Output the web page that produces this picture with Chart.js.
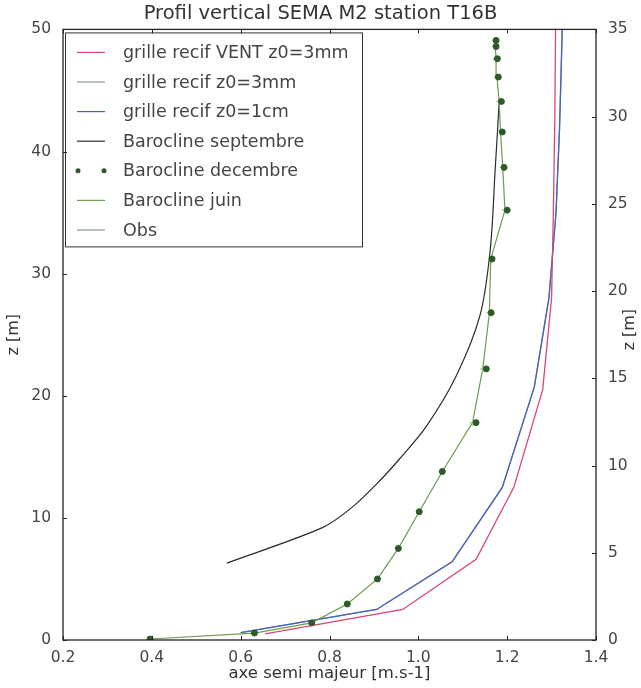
<!DOCTYPE html>
<html>
<head>
<meta charset="utf-8">
<title>Profil vertical SEMA M2 station T16B</title>
<script src="https://cdn.jsdelivr.net/npm/chart.js@4.4.0/dist/chart.umd.min.js"></script>
<style>
  html, body { margin: 0; padding: 0; background: #fff; }
  #wrap { width: 641px; height: 688px; }
</style>
</head>
<body>
<div id="wrap"><canvas id="profil" width="641" height="688"></canvas></div>
<script>
// Series values (x = axe semi majeur, z = depth in m)
const ventZ = [0.5, 2.5, 6.6, 12.5, 20.5, 28, 35, 42, 50];
const ventX = [0.655, 0.965, 1.13, 1.215, 1.28, 1.30, 1.304, 1.307, 1.309];

const z3mmZ = [0.6, 2.5, 6.4, 12.5, 20.7, 28, 35, 42, 50];
const z3mmX = [0.60, 0.906, 1.076, 1.189, 1.261, 1.294, 1.31, 1.318, 1.324];

const z1cmZ = [0.6, 2.5, 6.4, 12.5, 20.7, 28, 35, 42, 50];
const z1cmX = [0.60, 0.906, 1.076, 1.189, 1.261, 1.294, 1.31, 1.318, 1.324];

const septZ = [6.3, 9.2, 10.9, 13.0, 14.8, 17.5, 21.6, 26.6, 32, 38.5, 44];
const septX = [0.569, 0.784, 0.852, 0.912, 0.957, 1.018, 1.085, 1.139, 1.162, 1.173, 1.182];

const decZ = [0.08, 0.57, 1.4, 2.95, 5.0, 7.5, 10.5, 13.8, 17.8, 22.2, 26.8, 31.2, 35.2, 38.7, 41.6, 44.1, 46.1, 47.6, 48.6, 49.1];
const decX = [0.396, 0.631, 0.760, 0.840, 0.908, 0.955, 1.002, 1.054, 1.130, 1.153, 1.164, 1.166, 1.200, 1.193, 1.189, 1.187, 1.180, 1.178, 1.175, 1.175];

const juinZ = [0.08, 0.57, 1.4, 2.95, 5.0, 7.5, 10.5, 13.8, 17.8, 22.2, 26.8, 31.2, 35.2, 38.7, 41.6, 44.1, 46.1, 47.6, 48.6, 49.1];
const juinX = [0.396, 0.631, 0.760, 0.840, 0.908, 0.955, 1.002, 1.054, 1.122, 1.145, 1.160, 1.163, 1.195, 1.190, 1.185, 1.182, 1.177, 1.175, 1.173, 1.173];

const obsZ = [];
const obsX = [];

// Axis ticks
const xTicks = [0.2, 0.4, 0.6, 0.8, 1.0, 1.2, 1.4];
const zTicks = [0, 10, 20, 30, 40, 50];
const zRightTicks = [0, 5, 10, 15, 20, 25, 30, 35];

function toPoints(xs, zs) {
    return xs.map((x, i) => ({ x: x, y: zs[i] }));
}

const font = 'DejaVu Sans, Verdana, sans-serif';

// Legend drawn inside the plot, top left, like the original
const innerLegend = {
    id: 'innerLegend',
    afterDatasetsDraw(chart) {
        const ctx = chart.ctx;
        const area = chart.chartArea;
        const x0 = area.left + 2, y0 = area.top + 3;
        const w = 297, h = 214;
        ctx.save();
        ctx.fillStyle = '#fff';
        ctx.fillRect(x0, y0, w, h);
        ctx.strokeStyle = '#333';
        ctx.lineWidth = 1;
        ctx.strokeRect(x0 + 0.5, y0 + 0.5, w, h);
        ctx.font = '17.5px ' + font;
        ctx.textBaseline = 'middle';
        chart.data.datasets.forEach((ds, i) => {
            const y = y0 + 20 + i * 29.6;
            if (ds.showLine === false) {
                ctx.fillStyle = ds.pointBackgroundColor;
                [x0 + 13, x0 + 39].forEach(px => {
                    ctx.beginPath();
                    ctx.arc(px, y, 2.5, 0, Math.PI * 2);
                    ctx.fill();
                });
            } else {
                ctx.strokeStyle = ds.borderColor;
                ctx.lineWidth = 1.2;
                ctx.beginPath();
                ctx.moveTo(x0 + 12, y);
                ctx.lineTo(x0 + 40, y);
                ctx.stroke();
            }
            ctx.fillStyle = '#444';
            ctx.fillText(ds.label, x0 + 58, y + 1);
        });
        ctx.restore();
    },
    afterDraw(chart) {
        const ctx = chart.ctx;
        const area = chart.chartArea;
        ctx.save();
        // frame
        ctx.strokeStyle = '#222';
        ctx.lineWidth = 1.3;
        ctx.strokeRect(area.left, area.top, area.right - area.left, area.bottom - area.top);
        // inward ticks
        ctx.lineWidth = 1;
        ctx.beginPath();
        const sx = chart.scales.x, sy = chart.scales.y, sy2 = chart.scales.y2;
        xTicks.forEach(v => {
            const px = Math.round(sx.getPixelForValue(v)) + 0.5;
            ctx.moveTo(px, area.bottom); ctx.lineTo(px, area.bottom - 4);
            ctx.moveTo(px, area.top); ctx.lineTo(px, area.top + 4);
        });
        zTicks.forEach(v => {
            const py = Math.round(sy.getPixelForValue(v)) + 0.5;
            ctx.moveTo(area.left, py); ctx.lineTo(area.left + 4, py);
        });
        zRightTicks.forEach(v => {
            const py = Math.round(sy2.getPixelForValue(v)) + 0.5;
            ctx.moveTo(area.right, py); ctx.lineTo(area.right - 4, py);
        });
        ctx.stroke();
        // right axis title, reading upwards
        ctx.fillStyle = '#333';
        ctx.font = '16px ' + font;
        ctx.textAlign = 'center';
        ctx.textBaseline = 'middle';
        ctx.translate(630, (area.top + area.bottom) / 2 - 5);
        ctx.rotate(-Math.PI / 2);
        ctx.fillText('z [m]', 0, 0);
        ctx.restore();
    }
};

const ctx = document.getElementById('profil').getContext('2d');
new Chart(ctx, {
    type: 'scatter',
    data: {
        datasets: [
            { label: 'grille recif VENT z0=3mm', data: toPoints(ventX, ventZ), borderColor: '#d9466f', showLine: true, pointRadius: 0, borderWidth: 1.3, order: 3 },
            { label: 'grille recif z0=3mm', data: toPoints(z3mmX, z3mmZ), borderColor: '#8a9a8a', showLine: true, pointRadius: 0, borderWidth: 1.3, order: 5 },
            { label: 'grille recif z0=1cm', data: toPoints(z1cmX, z1cmZ), borderColor: '#4a5fc0', showLine: true, pointRadius: 0, borderWidth: 1.3, order: 4 },
            { label: 'Barocline septembre', data: toPoints(septX, septZ), borderColor: '#2a2a2a', showLine: true, pointRadius: 0, borderWidth: 1.2, tension: 0.3, order: 2 },
            { label: 'Barocline decembre', data: toPoints(decX, decZ), showLine: false, pointStyle: 'circle', pointRadius: 3, pointBackgroundColor: '#2e5a2a', pointBorderColor: '#2e5a2a', borderColor: '#2e5a2a', order: 0 },
            { label: 'Barocline juin', data: toPoints(juinX, juinZ), borderColor: '#6c9c4c', showLine: true, pointStyle: 'cross', pointRadius: 3, pointBorderColor: '#a8c890', pointBackgroundColor: '#a8c890', borderWidth: 1.2, order: 1 },
            { label: 'Obs', data: toPoints(obsX, obsZ), borderColor: '#8a9a8a', showLine: true, pointRadius: 0, borderWidth: 1.3, order: 6 }
        ]
    },
    options: {
        responsive: false,
        animation: false,
        layout: { padding: { top: 2, right: 0, left: 0, bottom: 0 } },
        plugins: {
            legend: { display: false },
            tooltip: { enabled: false },
            title: {
                display: true,
                text: 'Profil vertical SEMA M2 station T16B',
                color: '#333',
                font: { family: font, size: 19.5, weight: 'normal' },
                padding: { top: 0, bottom: 4 }
            }
        },
        scales: {
            x: {
                type: 'linear',
                min: 0.2, max: 1.4,
                afterBuildTicks: s => { s.ticks = xTicks.map(v => ({ value: v })); },
                afterFit: s => { s.height = 48; },
                grid: { display: false },
                border: { display: false },
                ticks: { color: '#444', font: { family: font, size: 15.5 }, padding: 1, maxRotation: 0, callback: v => v.toFixed(1) },
                title: { display: true, text: 'axe semi majeur [m.s-1]', color: '#333', font: { family: font, size: 16.5 }, padding: { top: 0 } }
            },
            y: {
                type: 'linear',
                position: 'left',
                min: 0, max: 50,
                afterBuildTicks: s => { s.ticks = zTicks.map(v => ({ value: v })); },
                afterFit: s => { s.width = 63; },
                grid: { display: false },
                border: { display: false },
                ticks: { color: '#444', font: { family: font, size: 15.5 }, padding: 4 },
                title: { display: true, text: 'z [m]', color: '#333', font: { family: font, size: 16 }, padding: { bottom: 6 } }
            },
            y2: {
                type: 'linear',
                position: 'right',
                min: 0, max: 35,
                afterBuildTicks: s => { s.ticks = zRightTicks.map(v => ({ value: v })); },
                afterFit: s => { s.width = 45; },
                grid: { display: false },
                border: { display: false },
                ticks: { color: '#444', font: { family: font, size: 15.5 }, padding: 4 }
            }
        }
    },
    plugins: [innerLegend]
});
</script>
</body>
</html>
